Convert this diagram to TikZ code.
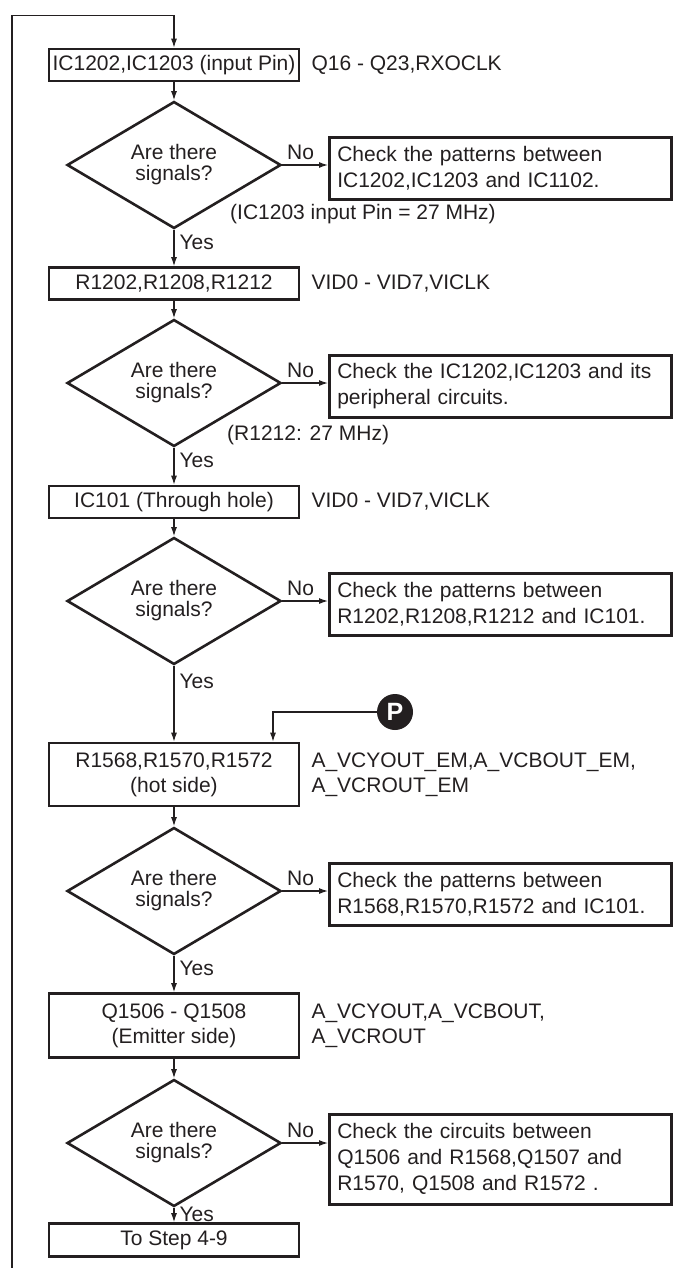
\documentclass[tikz,border=0pt]{standalone}
\usepackage{fontspec}
\setmainfont{Liberation Sans}
\usetikzlibrary{arrows.meta,positioning,shapes.geometric}
\definecolor{lineBlack}{RGB}{35,31,32}

\begin{document}
\begin{tikzpicture}[x=1pt,y=-1pt,
  every node/.style={font=\fontsize{21}{26}\selectfont,text=lineBlack},
  stepbox/.style={draw=lineBlack,line width=2.6pt,minimum width=250pt,minimum height=32pt,inner sep=0pt,align=center,font=\fontsize{21}{25}\selectfont},
  askbox/.style={diamond,draw=lineBlack,line width=2.6pt,minimum width=214pt,minimum height=116pt,inner sep=0pt,align=center,font=\fontsize{21}{21}\selectfont},
  checkbox/.style={draw=lineBlack,line width=2.6pt,anchor=north west,text width=326pt,inner xsep=8pt,inner ysep=0pt,minimum height=62pt,align=left},
  sigtext/.style={inner sep=0pt,align=left,font=\fontsize{21}{25}\selectfont},
  flowarrow/.style={draw=lineBlack,line width=1.2pt,-{Latex[length=9pt,width=6pt]}},
  yeslbl/.style={inner sep=0pt,anchor=west,xshift=5pt},
  nolbl/.style={inner sep=0pt,anchor=south,yshift=5pt}]
\useasboundingbox (0,0) rectangle (688,1268);

% main column
\node[stepbox] (box1) at (174,65) {IC1202,IC1203 (input Pin)};
\node[askbox] (dia1) at (174,165) {Are there\\signals?};
\node[stepbox] (box2) at (174,283.5) {R1202,R1208,R1212};
\node[askbox] (dia2) at (174,383) {Are there\\signals?};
\node[stepbox] (box3) at (174,502) {IC101 (Through hole)};
\node[askbox] (dia3) at (174,601) {Are there\\signals?};
\node[stepbox,minimum height=63pt] (box4) at (174,774.5) {R1568,R1570,R1572\\(hot side)};
\node[askbox] (dia4) at (174,891) {Are there\\signals?};
\node[stepbox,minimum height=64pt] (box5) at (174,1025.5) {Q1506 - Q1508\\(Emitter side)};
\node[askbox] (dia5) at (174,1143) {Are there\\signals?};
\node[stepbox,minimum height=33pt] (box6) at (174,1240) {To Step 4-9};

% signal names
\node[sigtext,right=11pt of box1] (sig1) {Q16 - Q23,RXOCLK};
\node[sigtext,right=11pt of box2] (sig2) {VID0 - VID7,VICLK};
\node[sigtext,right=11pt of box3] (sig3) {VID0 - VID7,VICLK};
\node[sigtext,right=11pt of box4] (sig4) {A\_VCYOUT\_EM,A\_VCBOUT\_EM,\\A\_VCROUT\_EM};
\node[sigtext,right=11pt of box5] (sig5) {A\_VCYOUT,A\_VCBOUT,\\A\_VCROUT};

% checks
\node[checkbox] (chk1) at (328,136) {Check the patterns between\\IC1202,IC1203 and IC1102.};
\node[checkbox] (chk2) at (328,354) {Check the IC1202,IC1203 and its\\peripheral circuits.};
\node[checkbox] (chk3) at (328,572) {Check the patterns between\\R1202,R1208,R1212 and IC101.};
\node[checkbox] (chk4) at (328,862) {Check the patterns between\\R1568,R1570,R1572 and IC101.};
\node[checkbox,minimum height=90pt] (chk5) at (328,1113) {Check the circuits between\\Q1506 and R1568,Q1507 and\\R1570, Q1508 and R1572 .};

% notes
\node[sigtext,anchor=west] (note1) at (230,214) {(IC1203 input Pin = 27 MHz)};
\node[sigtext,anchor=west] (note2) at (227,435) {(R1212: 27 MHz)};

\node[circle,fill=lineBlack,text=white,minimum size=36pt,inner sep=0pt,font=\fontsize{25}{25}\selectfont\bfseries] (pmark) at (395,712) {P};
\coordinate (loopfoot) at (12,1268);

% connectors
\draw[flowarrow] (loopfoot) |- ([yshift=32pt]box1.north) -- (box1.north);
\draw[flowarrow] (box1) -- (dia1);
\draw[flowarrow] (dia1.south) -- node[yeslbl,pos=.35]{Yes} (box2.north);
\draw[flowarrow] (box2) -- (dia2);
\draw[flowarrow] (dia2.south) -- node[yeslbl,pos=.35]{Yes} (box3.north);
\draw[flowarrow] (box3) -- (dia3);
\draw[flowarrow] (dia3.south) -- node[yeslbl,pos=.2]{Yes} (box4.north);
\draw[flowarrow] (pmark.west) -| ([xshift=99pt]box4.north);
\draw[flowarrow] (box4) -- (dia4);
\draw[flowarrow] (dia4.south) -- node[yeslbl,pos=.35]{Yes} (box5.north);
\draw[flowarrow] (box5) -- (dia5);
\draw[flowarrow] (dia5.south) -- node[yeslbl,pos=.45]{Yes} (box6.north);

\draw[flowarrow] (dia1.east) -- node[nolbl,pos=.4]{No} (dia1.east -| chk1.west);
\draw[flowarrow] (dia2.east) -- node[nolbl,pos=.4]{No} (dia2.east -| chk2.west);
\draw[flowarrow] (dia3.east) -- node[nolbl,pos=.4]{No} (dia3.east -| chk3.west);
\draw[flowarrow] (dia4.east) -- node[nolbl,pos=.4]{No} (dia4.east -| chk4.west);
\draw[flowarrow] (dia5.east) -- node[nolbl,pos=.4]{No} (dia5.east -| chk5.west);
\end{tikzpicture}
\end{document}
